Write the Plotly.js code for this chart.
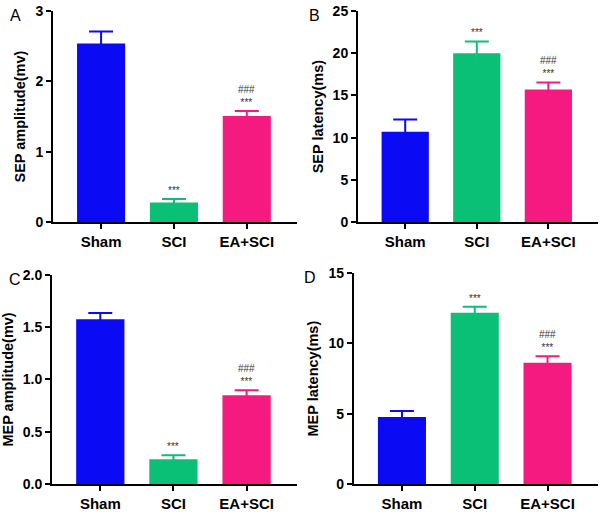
<!DOCTYPE html>
<html>
<head>
<meta charset="utf-8">
<script src="https://cdn.plot.ly/plotly-3.0.1.min.js"></script>
<style>html,body{margin:0;padding:0;background:#fff}#chart{width:605px;height:512px}</style>
</head>
<body>
<div id="chart"></div>
<script>
const categories = ["Sham", "SCI", "EA+SCI"];
const barColors = ["#0a0af5", "#0abf76", "#f51a80"];

const sepAmp = [2.54, 0.28, 1.51];
const sepAmpErr = [0.17, 0.05, 0.07];
const sepLat = [10.7, 20.0, 15.7];
const sepLatErr = [1.45, 1.4, 0.85];
const mepAmp = [1.575, 0.236, 0.849];
const mepAmpErr = [0.06, 0.04, 0.048];
const mepLat = [4.77, 12.17, 8.62];
const mepLatErr = [0.43, 0.43, 0.47];

const sigStar = ["", "***", "***"];
const sigHash = ["", "", "###"];

const panels = [
  {letter: "A", vals: sepAmp, errs: sepAmpErr, title: "SEP amplitude(mv)", range: [0, 3], dtick: 1, fmt: "", xd: [0.0876, 0.491], yd: [0.566, 0.9785]},
  {letter: "B", vals: sepLat, errs: sepLatErr, title: "SEP latency(ms)", range: [0, 25], dtick: 5, fmt: "", xd: [0.5917, 0.988], yd: [0.566, 0.9785]},
  {letter: "C", vals: mepAmp, errs: mepAmpErr, title: "MEP amplitude(mv)", range: [0, 2], dtick: 0.5, fmt: ".1f", xd: [0.086, 0.491], yd: [0.0547, 0.463]},
  {letter: "D", vals: mepLat, errs: mepLatErr, title: "MEP latency(ms)", range: [0, 15], dtick: 5, fmt: "", xd: [0.585, 0.988], yd: [0.054, 0.467]}
];

const font = "Liberation Sans, Arial, sans-serif";
const traces = [];
const layout = {
  width: 605, height: 512,
  margin: {l: 0, r: 0, t: 0, b: 0},
  paper_bgcolor: "#fff", plot_bgcolor: "#fff",
  showlegend: false, barmode: "overlay",
  font: {family: font, color: "#000"},
  annotations: []
};

panels.forEach((p, i) => {
  const n = i === 0 ? "" : String(i + 1);
  const xa = "x" + n, ya = "y" + n;
  // error bars first (transparent bars), so the solid bars cover the lower half
  categories.forEach((c, k) => {
    traces.push({
      type: "bar", x: [c], y: [p.vals[k]], xaxis: xa, yaxis: ya, width: 0.66,
      marker: {color: "rgba(0,0,0,0)"},
      error_y: {type: "data", array: [p.errs[k]], color: barColors[k], thickness: 2, width: 12},
      hoverinfo: "none"
    });
  });
  traces.push({
    type: "bar", x: categories, y: p.vals,
    xaxis: xa, yaxis: ya, width: 0.66,
    marker: {color: barColors, line: {width: 0}},
    hoverinfo: "none"
  });
  layout["xaxis" + n] = {
    domain: p.xd, anchor: ya, range: [-0.66, 2.69], type: "category",
    showline: true, linecolor: "#000", linewidth: 2, ticks: "outside", ticklen: 5, tickwidth: 2, tickcolor: "#000",
    tickfont: {family: font, size: 15, color: "#000", weight: "bold"}, showgrid: false, zeroline: false, fixedrange: true
  };
  layout["yaxis" + n] = {
    domain: p.yd, anchor: xa, range: p.range, dtick: p.dtick, tick0: 0, tickformat: p.fmt,
    showline: true, linecolor: "#000", linewidth: 2, ticks: "outside", ticklen: 5, tickwidth: 2, tickcolor: "#000",
    tickfont: {family: font, size: 14, color: "#000", weight: "bold"}, showgrid: false, zeroline: false,
    title: {text: p.title, font: {family: font, size: 14.5, color: "#000", weight: "bold"}, standoff: 6}
  };
  layout.annotations.push({
    xref: "paper", yref: "paper", x: p.xd[0] - (i % 2 === 0 ? 0.075 : 0.085), y: p.yd[1] + 0.012,
    xanchor: "left", yanchor: "top", text: p.letter, showarrow: false,
    font: {family: font, size: 16, color: "#000"}
  });
  categories.forEach((c, k) => {
    const top = p.vals[k] + p.errs[k];
    let lines = [];
    if (sigHash[k]) lines.push(sigHash[k]);
    if (sigStar[k]) lines.push(sigStar[k]);
    if (!lines.length) return;
    layout.annotations.push({
      xref: xa, yref: ya, x: c, y: top, xanchor: "center", yanchor: "bottom", yshift: 1,
      text: lines.join("<br>"), showarrow: false,
      font: {family: font, size: 10, color: "#333"}
    });
  });
});

Plotly.newPlot("chart", traces, layout, {displayModeBar: false, staticPlot: true});
</script>
</body>
</html>
